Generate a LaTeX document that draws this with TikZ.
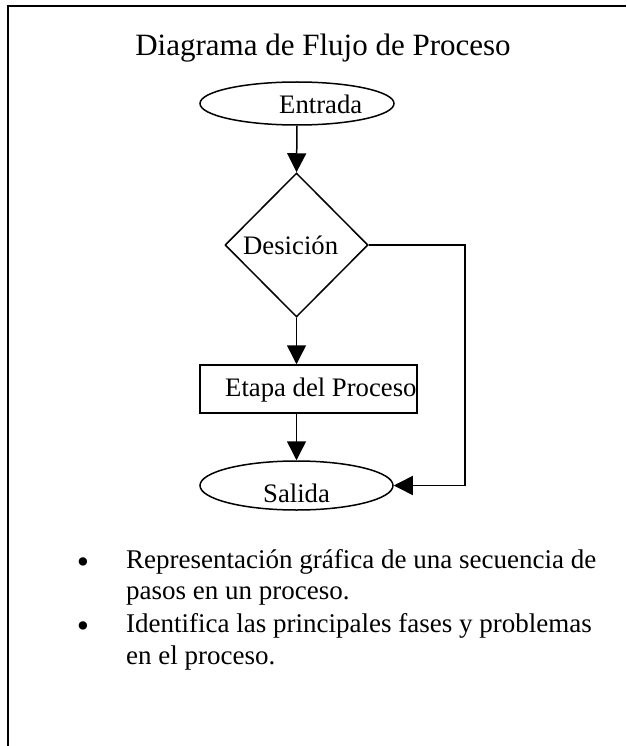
\documentclass[tikz,border=0pt]{standalone}
\usepackage{fontspec}
\setmainfont{Liberation Serif}
\usetikzlibrary{shapes.geometric,arrows.meta}
\begin{document}
\begin{tikzpicture}[x=1pt,y=1pt,
  conn/.style={line width=1.5pt},
  arr/.style={conn, -{Triangle[length=19pt,width=19pt]}},
  shapebox/.style={draw, line width=1.5pt, inner sep=0pt},
  lbl/.style={anchor=base west, inner sep=0pt, font=\fontsize{26.7}{32}\selectfont},
  bul/.style={anchor=base west, inner sep=0pt, font=\fontsize{27}{32}\selectfont},
  dot/.style={anchor=base, inner sep=0pt, font=\fontsize{35}{40}\selectfont},
  titlestyle/.style={anchor=base, inner sep=0pt, font=\fontsize{31}{37}\selectfont}
]
\useasboundingbox (0,0) rectangle (626,-746);
% frame
\draw[line width=2pt] (626,-6) -- (8,-6) -- (8,-746);
% title
\node[titlestyle] (title) at (323,-56) {Diagrama de Flujo de Proceso};
% shapes
\node[shapebox, ellipse, minimum width=194pt, minimum height=43pt] (ent) at (297,-103.5) {};
\node[shapebox, diamond, minimum width=143pt, minimum height=144pt] (dec) at (296.5,-245) {};
\node[shapebox, rectangle, minimum width=217pt, minimum height=48pt] (etp) at (308.5,-389) {};
\node[shapebox, ellipse, minimum width=193pt, minimum height=49pt] (sal) at (296.5,-485.5) {};
% labels
\node[lbl] (tent) at (279,-114) {Entrada};
\node[lbl] (tdec) at (243,-254) {Desición};
\node[lbl] (tetp) at (225,-396) {Etapa del Proceso};
\node[lbl] (tsal) at (263,-502) {Salida};
% connectors
\coordinate (cr) at (465,0);
\draw[arr] (ent.south) -- (dec.north);
\draw[arr] (dec.south) -- (dec.south |- etp.north);
\draw[arr] (dec.south |- etp.south) -- (sal.north);
\draw[arr] (dec.east) -- (dec.east -| cr) -- (cr |- sal.east) -- (sal.east);
% bullets
\node[dot] (b1) at (83,-573) {•};
\node[bul] (l1) at (126,-568) {Representación gráfica de una secuencia de};
\node[bul] (l2) at (126,-599) {pasos en un proceso.};
\node[dot] (b2) at (83,-637) {•};
\node[bul] (l3) at (126,-632) {Identifica las principales fases y problemas};
\node[bul] (l4) at (126,-664) {en el proceso.};
\end{tikzpicture}
\end{document}
